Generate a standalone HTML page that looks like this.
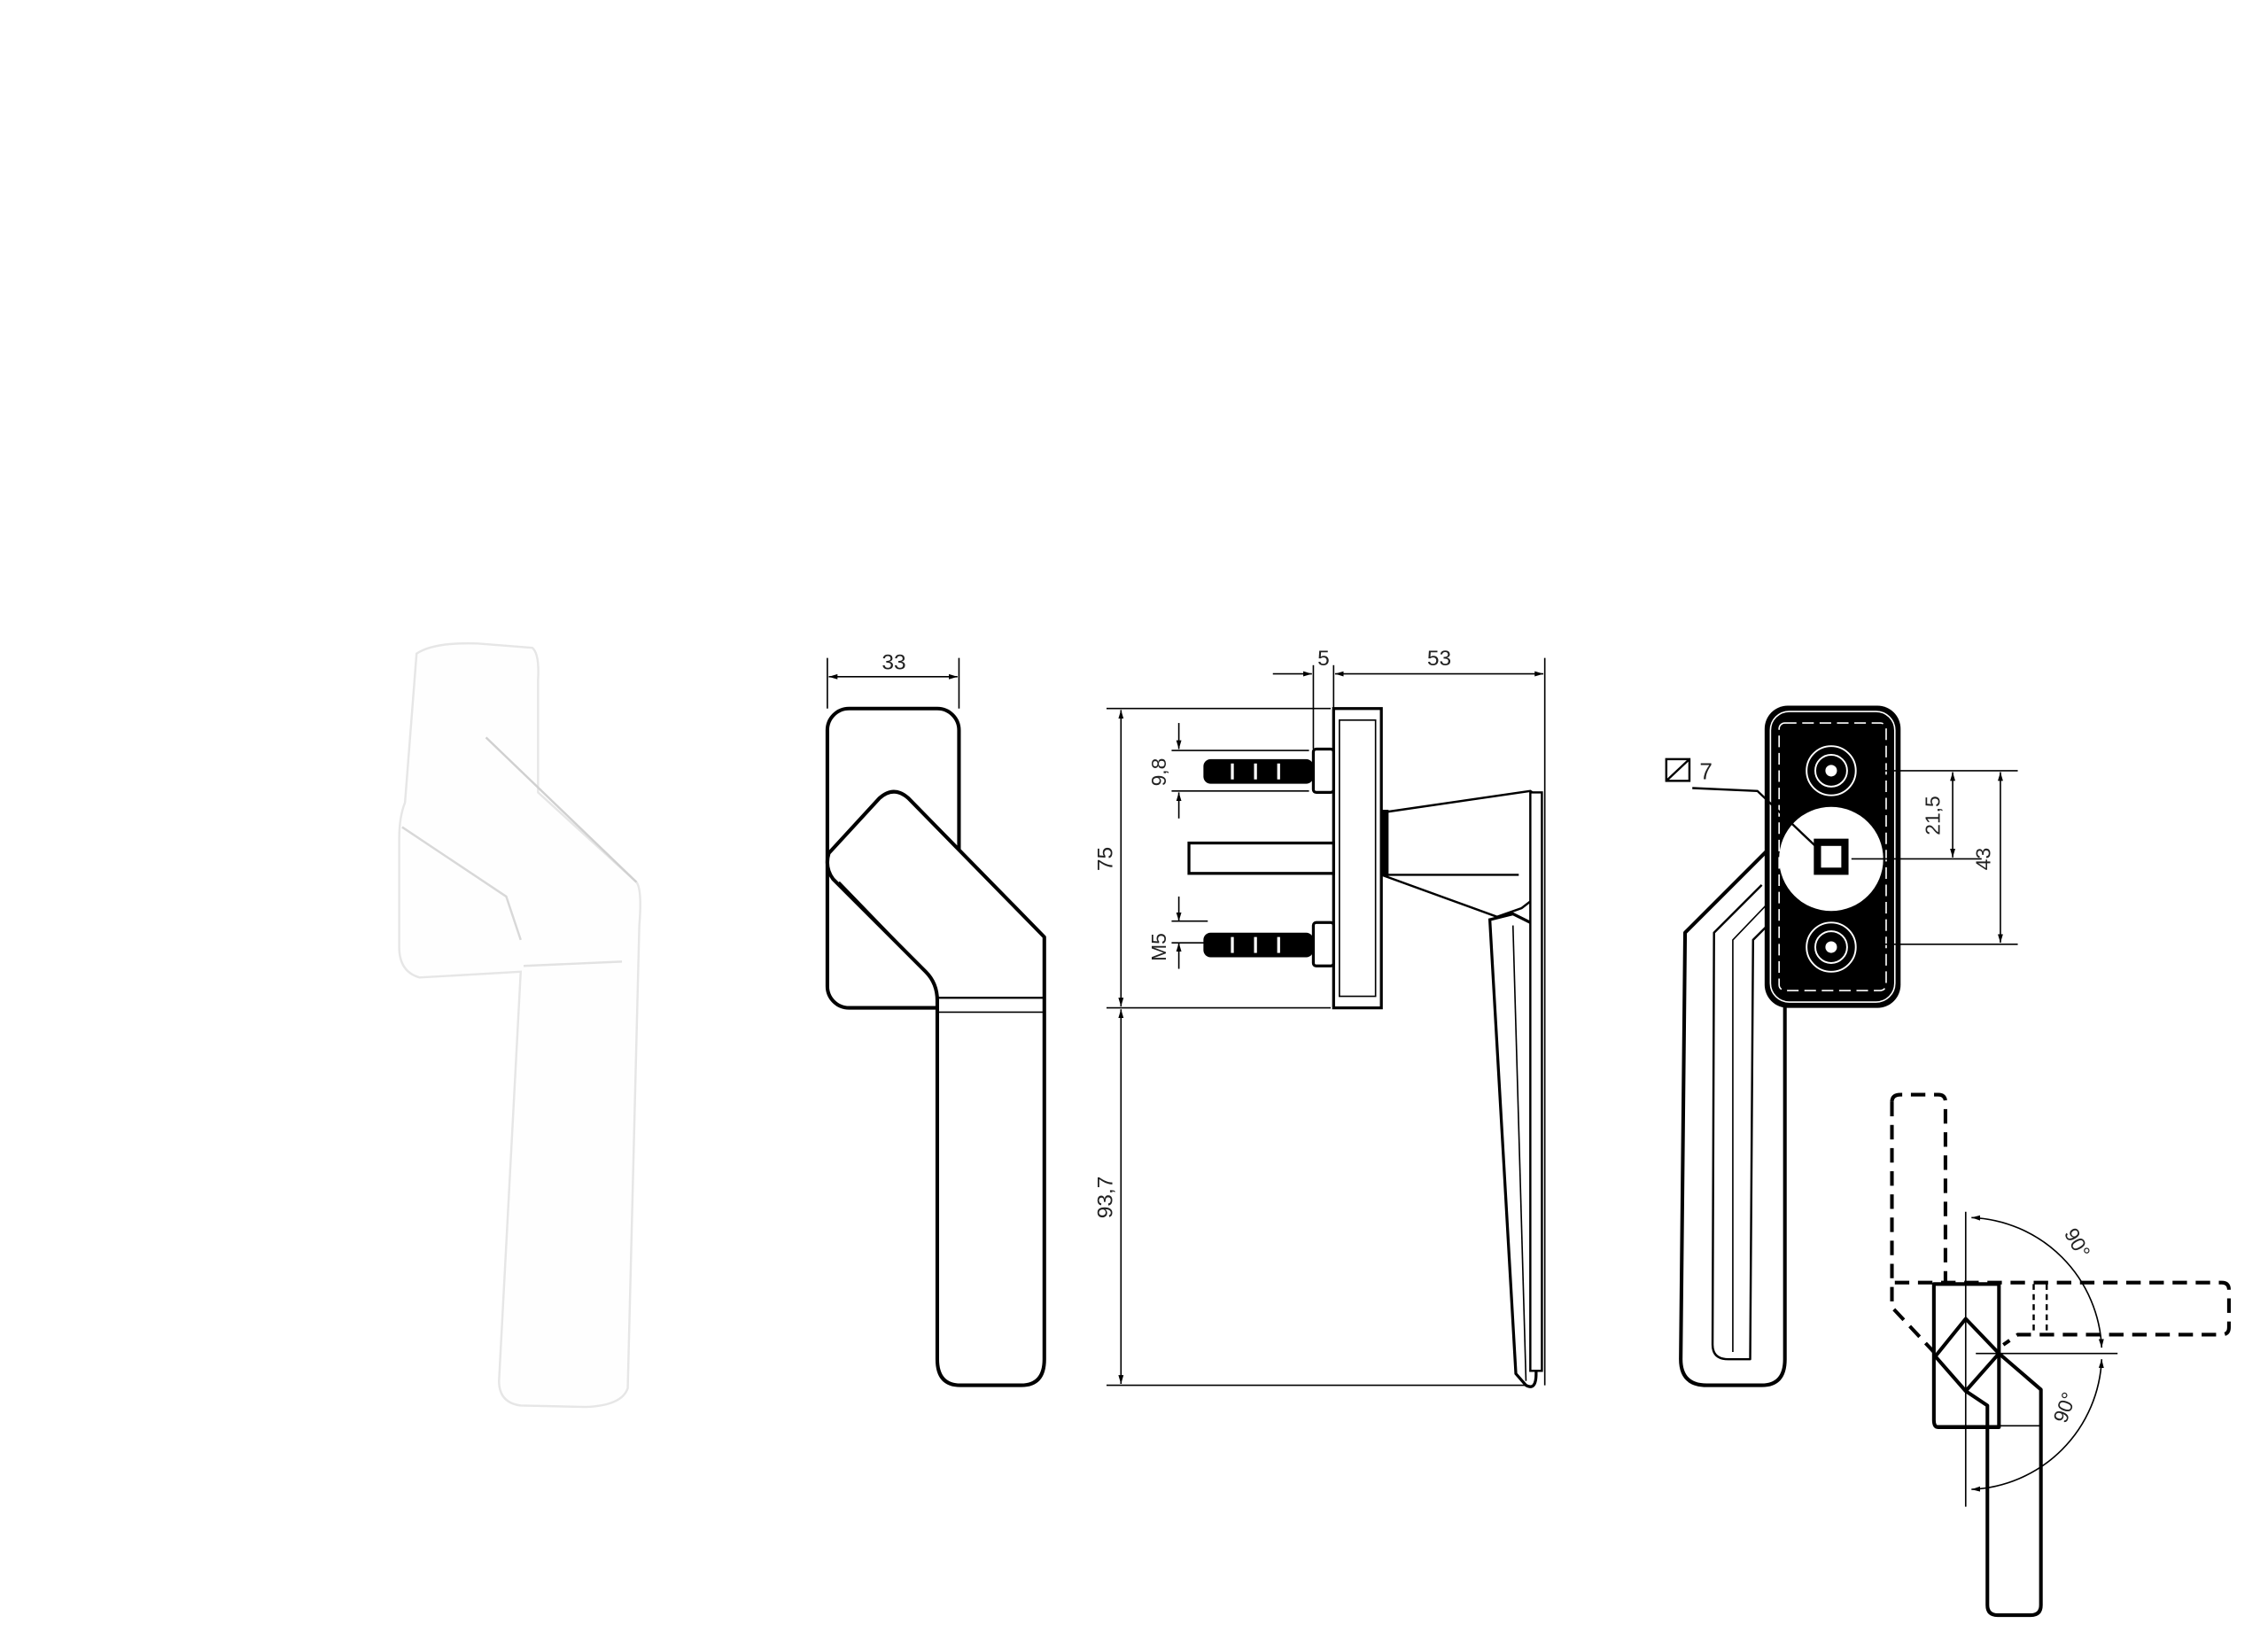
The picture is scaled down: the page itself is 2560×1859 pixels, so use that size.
<!DOCTYPE html>
<html><head><meta charset="utf-8"><style>
html,body{margin:0;padding:0;background:#fff;}
svg{display:block;}
text{font-family:"Liberation Sans",sans-serif;fill:#222;}
</style></head><body>
<svg width="2560" height="1859" viewBox="0 0 1568 1139" preserveAspectRatio="none" xmlns="http://www.w3.org/2000/svg">
<defs>
<marker id="a" viewBox="0 0 10 10" refX="10" refY="5" markerWidth="6" markerHeight="6" orient="auto-start-reverse"><path d="M0,2 L10,5 L0,8z" fill="#000"/></marker>
</defs>
<rect width="1568" height="1139" fill="#fff"/>

<!-- photo handle (faint) -->
<g fill="#fefefe" stroke="#e6e6e6" stroke-width="1.5">
<path d="M288,452 Q300,444 330,445 L368,448 Q373,452 372,470 L372,548 L440,610 Q444,615 442,640 L434,960 Q430,972 405,973 L360,972 Q345,970 345,955 L360,672 L290,676 Q276,672 276,655 L276,580 Q276,565 280,555 Z"/>
<path d="M278,572 L350,620 L360,650" fill="none" stroke="#d8d8d8"/>
<path d="M336,510 L440,610" fill="none" stroke="#d0d0d0"/>
<path d="M362,668 L430,665" fill="none" stroke="#e2e2e2"/>
</g>

<!-- front view -->
<g fill="none" stroke="#000" stroke-width="2.5" stroke-linejoin="round">
<rect x="572" y="490" width="91" height="207" rx="15"/>
<path d="M573,590 L608,552 Q618,543 628,552 L722,648 L722,940 Q722,958 706,958 L664,958 Q648,958 648,940 L648,692 Q648,680 640,672 L576,608 Q570,600 573,590 Z" fill="#fff"/>
<path d="M580,610 L640,672" stroke-width="1.5"/>
<line x1="648" y1="690" x2="722" y2="690" stroke-width="1.5"/>
<line x1="648" y1="700" x2="722" y2="700" stroke-width="1"/>
</g>
<g stroke="#000" stroke-width="1">
<line x1="572" y1="455" x2="572" y2="490"/><line x1="663" y1="455" x2="663" y2="490"/>
<line x1="573" y1="468" x2="662" y2="468" marker-start="url(#a)" marker-end="url(#a)"/>
</g>
<text x="618" y="463" font-size="15" text-anchor="middle">33</text>

<!-- side view -->
<g stroke="#000" stroke-width="1" fill="none">
<line x1="765" y1="490" x2="920" y2="490"/>
<line x1="765" y1="697" x2="920" y2="697"/>
<line x1="765" y1="958" x2="1060" y2="958"/>
<line x1="775" y1="491" x2="775" y2="696" marker-start="url(#a)" marker-end="url(#a)"/>
<line x1="775" y1="698" x2="775" y2="957" marker-start="url(#a)" marker-end="url(#a)"/>
<line x1="908" y1="460" x2="908" y2="518"/>
<line x1="922" y1="460" x2="922" y2="490"/>
<line x1="1068" y1="455" x2="1068" y2="958"/>
<line x1="880" y1="466" x2="907" y2="466" marker-end="url(#a)"/>
<line x1="923" y1="466" x2="1067" y2="466" marker-start="url(#a)" marker-end="url(#a)"/>
<line x1="815" y1="500" x2="815" y2="518" marker-end="url(#a)"/>
<line x1="815" y1="566" x2="815" y2="548" marker-end="url(#a)"/>
<line x1="810" y1="519" x2="905" y2="519"/><line x1="810" y1="547" x2="905" y2="547"/>
<line x1="815" y1="620" x2="815" y2="637" marker-end="url(#a)"/>
<line x1="815" y1="670" x2="815" y2="652" marker-end="url(#a)"/>
<line x1="810" y1="637" x2="835" y2="637"/><line x1="810" y1="652" x2="835" y2="652"/>
</g>
<text x="995" y="460" font-size="15" text-anchor="middle">53</text>
<text x="915" y="460" font-size="15" text-anchor="middle">5</text>
<text font-size="15" text-anchor="middle" transform="translate(769,594) rotate(-90)">75</text>
<text font-size="15" text-anchor="middle" transform="translate(769,828) rotate(-90)">93,7</text>
<text font-size="14" text-anchor="middle" transform="translate(806,534) rotate(-90)">9,8</text>
<text font-size="14" text-anchor="middle" transform="translate(806,655) rotate(-90)">M5</text>
<g stroke="#000" stroke-width="2" fill="#fff">
<rect x="922" y="490" width="33" height="207"/>
<rect x="926" y="498" width="25" height="191" stroke-width="1"/>
<rect x="908" y="518" width="14" height="30" rx="2"/>
<rect x="908" y="638" width="14" height="30" rx="2"/>
<rect x="822" y="583" width="100" height="21"/>
</g>
<g fill="#000">
<rect x="832" y="525" width="76" height="17" rx="5"/>
<rect x="832" y="645" width="76" height="17" rx="5"/>
</g>
<g stroke="#fff" stroke-width="2">
<line x1="852" y1="528" x2="852" y2="539"/><line x1="868" y1="528" x2="868" y2="539"/><line x1="884" y1="528" x2="884" y2="539"/>
<line x1="852" y1="648" x2="852" y2="659"/><line x1="868" y1="648" x2="868" y2="659"/><line x1="884" y1="648" x2="884" y2="659"/>
</g>
<g stroke="#000" stroke-width="1.5" fill="#fff">
<path d="M955,562 L1058,547 L1065,552 L1065,618 L1052,628 L1035,634 L955,605 Z"/>
<line x1="955" y1="605" x2="1050" y2="605"/>
<path d="M1030,636 L1046,632 L1062,640 L1062,950 Q1062,962 1055,958 L1048,950 Z" stroke-width="2"/>
<line x1="1046" y1="640" x2="1055" y2="955" stroke-width="1"/>
<rect x="1058" y="548" width="8" height="400" stroke-width="1.5"/>
</g>
<rect x="955" y="560" width="5" height="46" fill="#000"/>

<!-- right view -->
<g stroke="#000" stroke-width="2.5" fill="none" stroke-linejoin="round">
<path d="M1222,588 L1165,645 L1162,940 Q1162,958 1180,958 L1218,958 Q1234,958 1234,940 L1234,693"/>
<path d="M1218,612 L1185,645 L1184,930 Q1184,940 1195,940 L1210,940 L1212,650 L1222,640" stroke-width="1.5"/>
<path d="M1222,625 L1198,650 L1198,935" stroke-width="1"/>
</g>
<rect x="1220" y="488" width="94" height="209" rx="16" fill="#000"/>
<rect x="1224" y="492" width="86" height="201" rx="13" fill="none" stroke="#fff" stroke-width="1"/>
<rect x="1230" y="500" width="74" height="185" rx="4" fill="none" stroke="#fff" stroke-width="1" stroke-dasharray="8,4"/>
<g fill="none" stroke="#fff" stroke-width="1.2">
<circle cx="1266" cy="533" r="17"/><circle cx="1266" cy="533" r="11"/>
<circle cx="1266" cy="655" r="17"/><circle cx="1266" cy="655" r="11"/>
</g>
<circle cx="1266" cy="533" r="4" fill="#fff"/><circle cx="1266" cy="655" r="4" fill="#fff"/>
<circle cx="1266" cy="594" r="36" fill="#fff"/>
<rect x="1254" y="580" width="24" height="25" fill="#000"/>
<rect x="1259" y="585" width="14" height="15" fill="#fff"/>
<g stroke="#000" stroke-width="1" fill="none">
<line x1="1300" y1="533" x2="1395" y2="533"/>
<line x1="1300" y1="653" x2="1395" y2="653"/>
<line x1="1280" y1="594" x2="1370" y2="594"/>
<line x1="1350" y1="534" x2="1350" y2="593" marker-start="url(#a)" marker-end="url(#a)"/>
<line x1="1383" y1="534" x2="1383" y2="652" marker-start="url(#a)" marker-end="url(#a)"/>
<rect x="1152" y="525" width="16" height="15" stroke-width="1.5"/>
<line x1="1152" y1="540" x2="1168" y2="525" stroke-width="1.5"/>
</g>
<polyline points="1170,545 1215,547 1255,585" stroke="#000" stroke-width="1.5" fill="none"/>
<text x="1175" y="539" font-size="16">7</text>
<text font-size="14" text-anchor="middle" transform="translate(1341,564) rotate(-90)">21,5</text>
<text font-size="14" text-anchor="middle" transform="translate(1376,594) rotate(-90)">43</text>

<!-- rotation view -->
<g stroke="#000" stroke-width="2.5" fill="none" stroke-dasharray="10,6">
<path d="M1308,762 Q1308,757 1314,757 L1340,757 Q1345,757 1345,762 L1345,888"/>
<path d="M1308,762 L1308,904 L1337,935"/>
<path d="M1310,887 L1536,887 Q1541,887 1541,892 L1541,918 Q1541,923 1536,923 L1395,923 L1385,930"/>
<path d="M1406,888 L1406,922 M1415,888 L1415,922" stroke-width="1.5" stroke-dasharray="4,3"/>
</g>
<g stroke="#000" stroke-width="2.5" fill="none" stroke-linejoin="round">
<path d="M1337,888 L1382,888 L1382,987 L1340,987 Q1337,987 1337,982 Z"/>
<path d="M1338,938 L1359,912 L1382,936 L1359,962 Z"/>
<path d="M1382,936 L1411,961 L1411,1110 Q1411,1117 1404,1117 L1381,1117 Q1374,1117 1374,1110 L1374,972 L1359,962"/>
</g>
<g stroke="#000" stroke-width="1" fill="none">
<line x1="1359" y1="838" x2="1359" y2="1042"/>
<line x1="1337" y1="986" x2="1410" y2="986"/>
<line x1="1366" y1="936" x2="1464" y2="936"/>
<path d="M1363,842 A94,94 0 0 1 1453,932" marker-start="url(#a)" marker-end="url(#a)"/>
<path d="M1453,940 A94,94 0 0 1 1363,1030" marker-start="url(#a)" marker-end="url(#a)"/>
</g>
<text font-size="14" text-anchor="middle" transform="translate(1432,862) rotate(60)">90°</text>
<text font-size="14" text-anchor="middle" transform="translate(1432,975) rotate(-70)">90°</text>
</svg>
</body></html>
